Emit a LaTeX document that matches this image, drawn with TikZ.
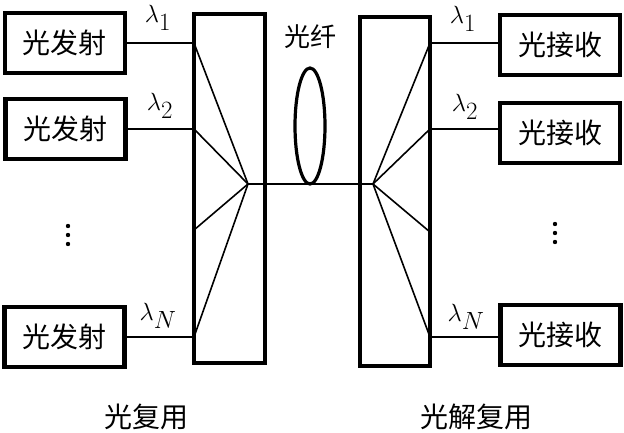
\documentclass[tikz,border=0pt]{standalone}
\usepackage{fontspec}
\newfontfamily\cjk{Noto Sans CJK SC}
\usetikzlibrary{shapes.geometric}
\tikzset{
  box/.style={draw, line width=4.5pt, minimum width=120pt, minimum height=60pt, inner sep=0pt, font=\cjk\fontsize{28}{32}\selectfont},
  mux/.style={draw, line width=4.5pt, minimum width=71pt, minimum height=349pt, inner sep=0pt},
  thin/.style={line width=1.6pt},
  lam/.style={inner sep=0pt, font=\fontsize{33}{38}\selectfont},
  lbl/.style={inner sep=0pt, font=\cjk\fontsize{28}{32}\selectfont},
}
\begin{document}
\begin{tikzpicture}[x=1pt,y=-1pt]
\useasboundingbox (0,0) rectangle (624,433);
% transmitter boxes
\node[box] (t1) at (65,43) {光发射};
\node[box] (t2) at (65.5,129) {光发射};
\node[box] (t3) at (64.5,337) {光发射};
% receiver boxes
\node[box] (r1) at (560,45) {光接收};
\node[box] (r2) at (560,133) {光接收};
\node[box] (r3) at (560.5,335) {光接收};
% mux / demux
\node[mux] (mx) at (229.5,188.5) {};
\node[mux, minimum width=70pt] (dx) at (395,191.5) {};
% fan coordinates
\coordinate (m1) at (194,43);
\coordinate (m2) at (194,129);
\coordinate (m3) at (194,230);
\coordinate (m4) at (194,337);
\coordinate (f1) at (248,184);
\coordinate (d1) at (430,43);
\coordinate (d2) at (430,129);
\coordinate (d3) at (430,232);
\coordinate (d4) at (430,337);
\coordinate (f2) at (373,184);
% input lines
\draw[thin] (t1.east |- m1) -- (m1);
\draw[thin] (t2.east |- m2) -- (m2);
\draw[thin] (t3.east |- m4) -- (m4);
\foreach \c in {m1,m2,m3,m4} \draw[thin] (f1) -- (\c);
% output lines
\draw[thin] (d1) -- (r1.west |- d1);
\draw[thin] (d2) -- (r2.west |- d2);
\draw[thin] (d4) -- (r3.west |- d4);
\foreach \c in {d1,d2,d3,d4} \draw[thin] (f2) -- (\c);
% fibre
\draw[thin] (f1) -- (f2);
\node[draw, ellipse, line width=3.2pt, minimum width=30pt, minimum height=116pt, inner sep=0pt] (fib) at (310,126) {};
\node[lbl, font=\cjk\fontsize{26}{30}\selectfont] (fl) at (310,37) {光纤};
% wavelength labels
\node[lam] (l1) at (158,18) {$\lambda_1$};
\node[lam] (l2) at (160,106) {$\lambda_2$};
\node[lam] (l3) at (158,316) {$\lambda_N$};
\node[lam] (l4) at (463,19) {$\lambda_1$};
\node[lam] (l5) at (465,107) {$\lambda_2$};
\node[lam] (l6) at (466,317) {$\lambda_N$};
% dots
\foreach \y in {226,235,244} \fill (68,\y) circle (2.2pt);
\foreach \y in {224,233,242} \fill (555,\y) circle (2.2pt);
% bottom labels
\node[lbl] (b1) at (146,417) {光复用};
\node[lbl] (b2) at (476,417) {光解复用};
\end{tikzpicture}
\end{document}
